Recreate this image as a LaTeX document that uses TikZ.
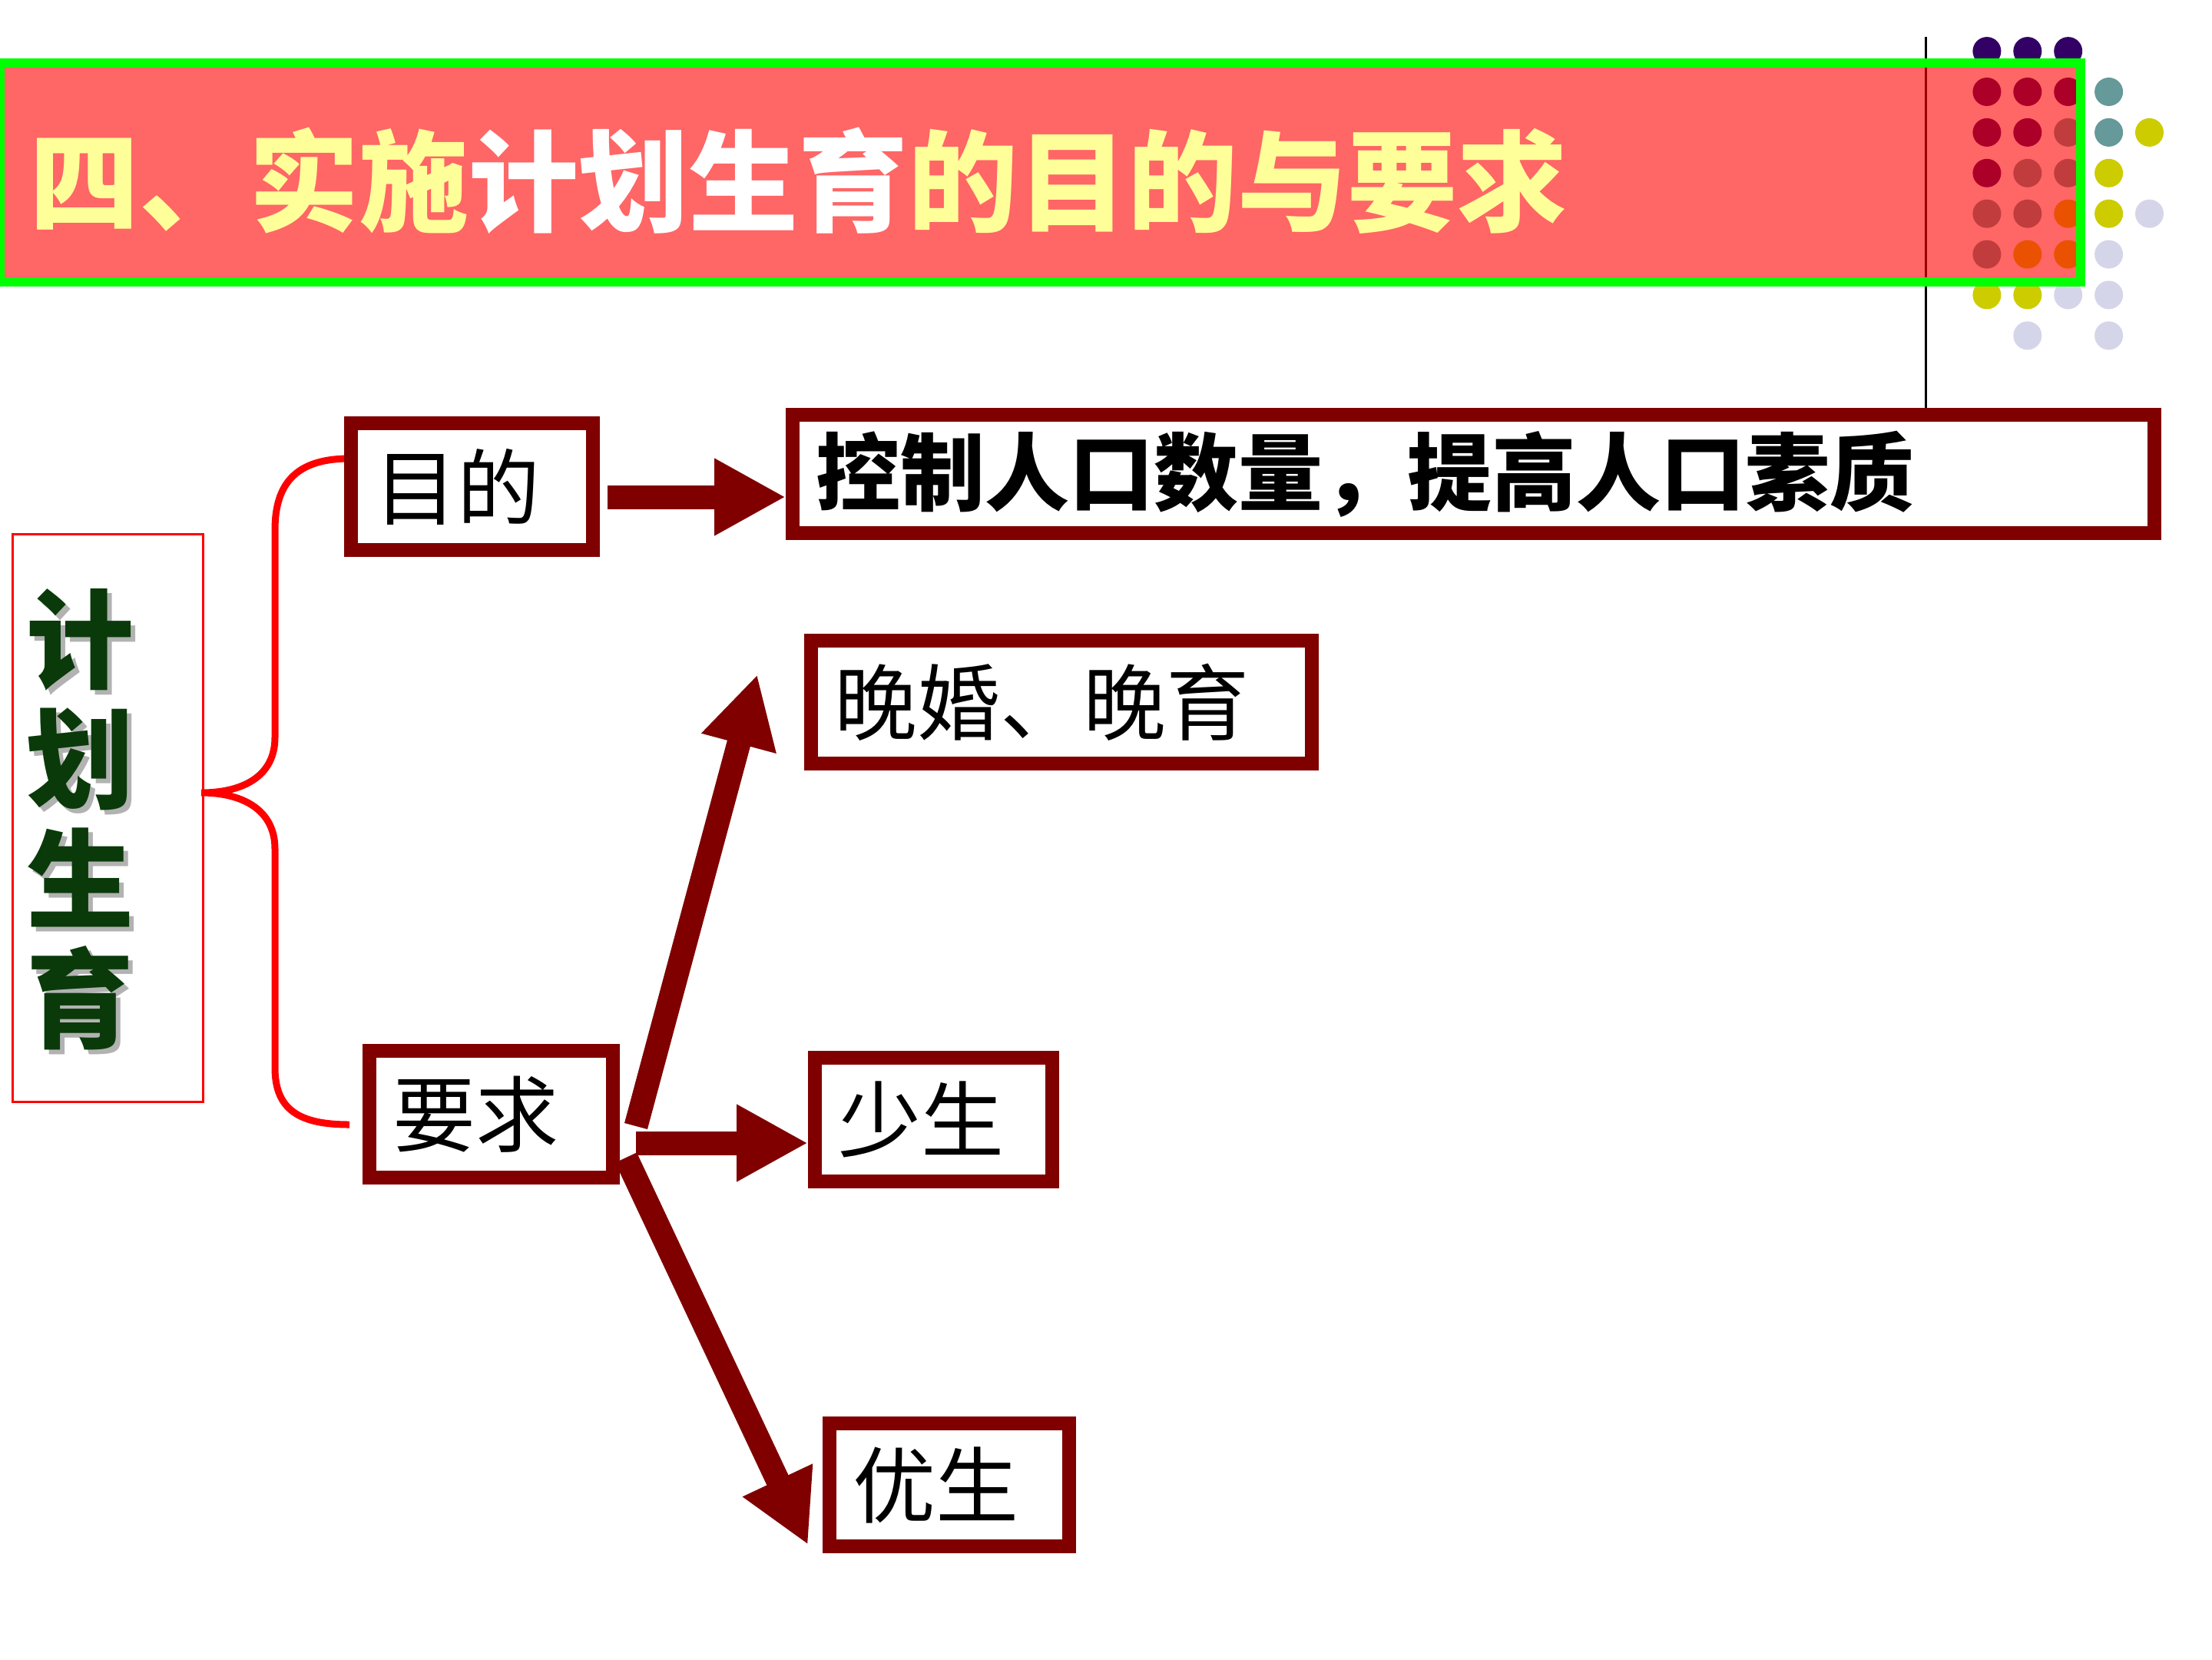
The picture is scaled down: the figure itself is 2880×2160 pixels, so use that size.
\documentclass[tikz,border=0pt]{standalone}
\usepackage{fontspec}
\newfontfamily\cjk{Noto Sans CJK SC}
\usetikzlibrary{arrows.meta,calc}
\definecolor{dred}{HTML}{800000}
\definecolor{dpurple}{HTML}{330066}
\definecolor{dteal}{HTML}{669999}
\definecolor{dyellow}{HTML}{CCCC00}
\definecolor{dlav}{HTML}{D5D5EA}
\definecolor{tyellow}{HTML}{FFFF99}
\definecolor{vgreen}{HTML}{0A3A0A}
\definecolor{lgreen}{HTML}{00FF00}
\newcommand{\shch}[1]{\makebox[0pt][l]{\hspace{6pt}\raisebox{-6pt}{\textcolor{black!30}{#1}}}\textcolor{vgreen}{#1}}
\begin{document}
\begin{tikzpicture}[x=1pt,y=-1pt,
  dot/.style={circle, minimum size=37pt, inner sep=0pt},
  box/.style={draw=dred, line width=18pt, fill=white, inner xsep=30pt, inner ysep=0pt,
              align=left, font=\cjk\fontsize{108}{120}\selectfont},
  bigarr/.style={draw=dred, line width=31pt, -{Triangle[length=93pt,width=94pt]}},
  brace/.style={draw=red, line width=9pt},
  vtext/.style={align=center, inner sep=0pt, font=\cjk\bfseries\fontsize{140}{156}\selectfont}
]
\useasboundingbox (0,0) rectangle (2880,2160);
\fill[white] (0,0) rectangle (2880,2160);

% dot grid
\foreach \c/\r/\col in {1/1/dpurple,2/1/dpurple,3/1/dpurple,
  1/2/dpurple,2/2/dpurple,3/2/dpurple,4/2/dteal,
  1/3/dpurple,2/3/dpurple,3/3/dteal,4/3/dteal,5/3/dyellow,
  1/4/dpurple,2/4/dteal,3/4/dteal,4/4/dyellow,
  1/5/dteal,2/5/dteal,3/5/dyellow,4/5/dyellow,5/5/dlav,
  1/6/dteal,2/6/dyellow,3/6/dyellow,4/6/dlav,
  1/7/dyellow,2/7/dyellow,3/7/dlav,4/7/dlav,
  2/8/dlav,4/8/dlav}
  \node[dot, fill=\col] (d\c\r) at ({2534+52.9*\c},{13.7+52.9*\r}) {};

% top box (needed for line end)
\node[box, font=\cjk\bfseries\fontsize{110}{120}\selectfont, text width=1713pt, minimum height=154pt] (kz) at (1918.5,617) {控制人口数量，提高人口素质};

% vertical black line
\draw[line width=3pt] (2507,48) -- (2507,0 |- kz.north);

% title bar
\node[fill=red, fill opacity=0.6, draw=lgreen, line width=12pt, minimum width=2709pt,
      minimum height=285pt, inner sep=0pt] (tbar) at (1354.5,224.5) {};
\node[anchor=base west, inner sep=0pt, font=\cjk\bfseries\fontsize{143}{150}\selectfont] (ttl) at (38,290)
  {\textcolor{tyellow}{四、实施}\textcolor{white}{计划生育}\textcolor{tyellow}{的目的与要求}};

% left vertical box
\node[draw=red, line width=3pt, minimum width=248pt, minimum height=739pt, inner sep=0pt] (jh) at (140.5,1065) {};
\node[vtext] (jht) at (104,1070) {\shch{计}\\\shch{划}\\\shch{生}\\\shch{育}};

% brace
\coordinate (bt) at (455,597);
\coordinate (bc) at ([xshift=-4pt,yshift=33pt]jh.east);
\coordinate (bb) at (455,1464);
\draw[brace] (bt) .. controls +(-70,0) and +(0,-60) .. (358,690)
  -- (358,960) .. controls +(0,50) and +(55,0) .. (bc)
  .. controls +(55,0) and +(0,-50) .. (358,1105)
  -- (358,1390) .. controls +(0,55) and +(-65,0) .. (bb);

% other boxes
\node[box, text width=255pt, minimum height=165pt] (mudi) at (614.5,633.5) {目的};
\node[box, text width=257pt, minimum height=165pt] (yao) at (639.5,1450.5) {要求};
\node[box, text width=592pt, minimum height=160pt] (wh) at (1382,914) {晚婚、晚育};
\node[box, text width=249pt, minimum height=161pt] (ss) at (1215.5,1457.5) {少生};
\node[box, text width=252pt, minimum height=160pt] (ys) at (1236,1933) {优生};

% arrows
\coordinate (a1) at ([xshift=10pt,yshift=-13.5pt]mudi.east);
\draw[bigarr] (a1) -- (a1 -| kz.west);
\coordinate (a2) at ([xshift=21pt,yshift=-37.5pt]yao.east);
\draw[bigarr] (a2) -- (a2 -| ss.west);
\coordinate (a3) at ([xshift=21pt,yshift=-15.5pt]yao.east);
\coordinate (t3) at ([xshift=-61pt,yshift=36pt]wh.west);
\draw[bigarr] (a3) -- (t3);
\coordinate (a4) at ([xshift=8pt,yshift=-56.5pt]yao.east);
\coordinate (t4) at ([xshift=-19pt,yshift=-78pt]ys.west);
\draw[bigarr] (a4) -- (t4);
\end{tikzpicture}
\end{document}
